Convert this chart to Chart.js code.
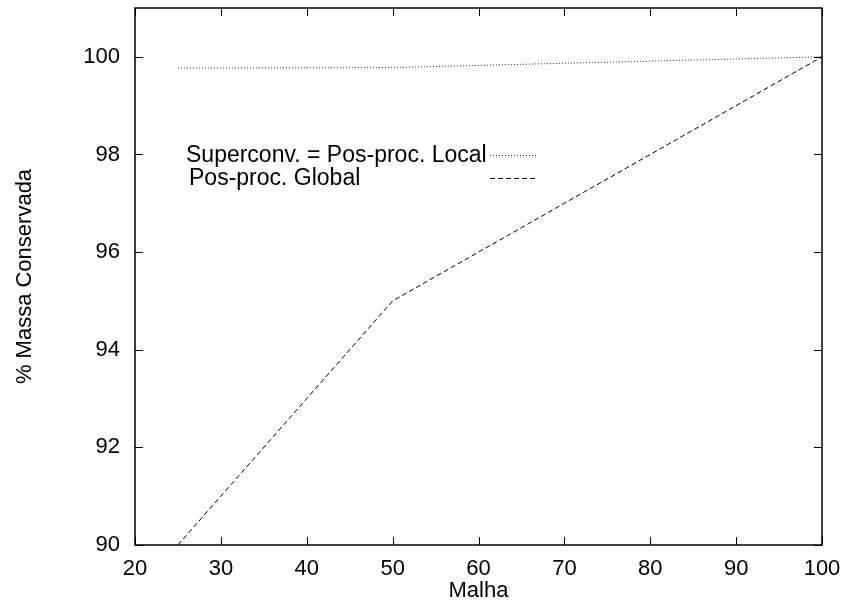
<!DOCTYPE html>
<html>
<head>
<meta charset="utf-8">
<script src="https://cdn.jsdelivr.net/npm/chart.js@4"></script>
<style>
  html, body { margin: 0; padding: 0; background: #fff; }
  #wrap { width: 843px; height: 604px; }
</style>
</head>
<body>
<div id="wrap"><canvas id="grafico" width="843" height="604"></canvas></div>
<script>
// dados
const malha = [25, 50, 100];
const superconvLocal = [99.77, 99.78, 100];
const posProcGlobal = [90, 95, 100];
const rotulos = ["Superconv. = Pos-proc. Local", "Pos-proc. Global"];

const fonte = "'Liberation Sans', Arial, sans-serif";

function pontos(xs, ys) {
  return xs.map((x, i) => ({ x: x, y: ys[i] }));
}

// moldura e marcas para dentro, estilo gnuplot
const molduraPlugin = {
  id: "moldura",
  afterDraw(chart) {
    const ctx = chart.ctx;
    const a = chart.chartArea;
    const sx = chart.scales.x, sy = chart.scales.y;
    ctx.save();
    ctx.strokeStyle = "#000";
    ctx.lineWidth = 1;
    ctx.beginPath();
    sx.ticks.forEach(t => {
      const px = Math.round(sx.getPixelForValue(t.value)) + 0.5;
      ctx.moveTo(px, a.bottom); ctx.lineTo(px, a.bottom - 8);
      ctx.moveTo(px, a.top); ctx.lineTo(px, a.top + 8);
    });
    sy.ticks.forEach(t => {
      const py = Math.round(sy.getPixelForValue(t.value)) + 0.5;
      ctx.moveTo(a.left, py); ctx.lineTo(a.left + 8, py);
      ctx.moveTo(a.right, py); ctx.lineTo(a.right - 8, py);
    });
    ctx.stroke();
    ctx.lineWidth = 1.5;
    ctx.strokeRect(a.left, a.top, a.right - a.left, a.bottom - a.top);

    // legenda
    ctx.fillStyle = "#000";
    ctx.font = "23px " + fonte;
    ctx.textBaseline = "alphabetic";
    ctx.textAlign = "left";
    ctx.fillText(rotulos[0], 186, 162);
    ctx.fillText(rotulos[1], 189, 185);
    const ds = chart.data.datasets;
    [155, 178].forEach((y, i) => {
      ctx.beginPath();
      ctx.lineWidth = 1;
      ctx.strokeStyle = ds[i].borderColor;
      ctx.setLineDash(ds[i].borderDash);
      ctx.moveTo(490, y + 0.5);
      ctx.lineTo(538, y + 0.5);
      ctx.stroke();
    });
    ctx.restore();
  }
};

new Chart(document.getElementById("grafico"), {
  type: "line",
  data: {
    datasets: [
      {
        label: rotulos[0],
        data: pontos(malha, superconvLocal),
        borderColor: "#222",
        borderWidth: 1,
        borderDash: [1, 2],
        pointRadius: 0,
        fill: false,
        tension: 0
      },
      {
        label: rotulos[1],
        data: pontos(malha, posProcGlobal),
        borderColor: "#000",
        borderWidth: 1,
        borderDash: [5, 3],
        pointRadius: 0,
        fill: false,
        tension: 0
      }
    ]
  },
  options: {
    responsive: false,
    animation: false,
    layout: { padding: { top: 8, right: 21, left: 0, bottom: 0 } },
    plugins: { legend: { display: false }, tooltip: { enabled: false } },
    scales: {
      x: {
        type: "linear",
        min: 20, max: 100,
        grid: { display: false, drawTicks: false },
        border: { display: false },
        ticks: { stepSize: 10, padding: 11, maxRotation: 0, color: "#000", font: { family: fonte, size: 22 } },
        title: { display: true, text: "Malha", color: "#000", font: { family: fonte, size: 22 }, padding: { top: 0, bottom: 0 } },
        afterFit(scale) {
          scale.height = 59;
          scale.paddingLeft = 0;
          scale.paddingRight = 0;
        }
      },
      y: {
        type: "linear",
        min: 90, max: 101,
        grid: { display: false, drawTicks: false },
        border: { display: false },
        ticks: { stepSize: 2, includeBounds: false, padding: 15, color: "#000", font: { family: fonte, size: 22 } },
        title: { display: true, text: "% Massa Conservada", color: "#000", font: { family: fonte, size: 22 }, padding: { top: 12, bottom: 0 } },
        afterFit(scale) {
          scale.width = 135;
          scale.paddingTop = 0;
          scale.paddingBottom = 0;
        }
      }
    }
  },
  plugins: [molduraPlugin]
});
</script>
</body>
</html>
